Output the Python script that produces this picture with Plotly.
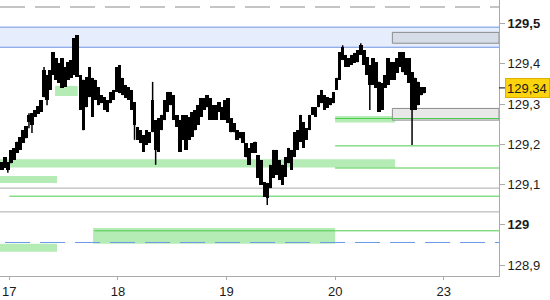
import plotly.graph_objects as go
import pandas as pd

# ---------------- data ----------------
bar_start = "2019-09-16 22:20"
bar_freq = "40min"

body_hi = [129.156,129.168,129.156,129.186,129.191,129.206,129.218,129.235,129.245,129.273,
           129.277,129.285,129.295,129.310,129.384,129.372,129.384,129.429,129.414,129.402,
           129.414,129.392,129.404,129.409,129.464,129.471,129.372,129.360,129.367,129.392,
           129.365,129.360,129.342,129.322,129.317,129.310,129.330,129.335,129.392,129.397,
           129.365,129.347,129.342,129.335,129.305,129.243,129.235,129.223,129.235,129.230,
           129.310,129.260,129.265,129.273,129.310,129.330,129.330,129.322,129.273,129.260,
           129.273,129.273,129.268,129.280,129.285,129.297,129.315,129.315,129.322,129.315,
           129.297,129.297,129.305,129.292,129.310,129.315,129.265,129.253,129.235,129.230,
           129.230,129.203,129.191,129.203,129.206,129.173,129.161,129.106,129.104,129.149,
           129.186,129.186,129.161,129.149,129.168,129.191,129.186,129.230,129.235,129.273,
           129.255,129.240,129.273,129.292,129.292,129.322,129.335,129.322,129.317,129.315,
           129.330,129.365,129.429,129.442,129.422,129.414,129.422,129.427,129.434,129.446,
           129.434,129.417,129.397,129.414,129.404,129.355,129.352,129.372,129.414,129.404,
           129.404,129.414,129.429,129.429,129.414,129.414,129.379,129.365,129.355,129.342,
           129.342]
body_lo = [129.136,129.141,129.136,129.153,129.161,129.178,129.186,129.203,129.215,129.255,
           129.248,129.268,129.275,129.280,129.317,129.310,129.335,129.372,129.360,129.352,
           129.340,129.342,129.360,129.365,129.372,129.367,129.285,129.235,129.292,129.317,
           129.268,129.310,129.297,129.302,129.285,129.280,129.302,129.310,129.330,129.327,
           129.322,129.315,129.310,129.285,129.248,129.211,129.203,129.181,129.198,129.203,
           129.230,129.186,129.181,129.235,129.260,129.280,129.297,129.260,129.243,129.181,
           129.211,129.186,129.211,129.218,129.235,129.248,129.268,129.285,129.292,129.260,
           129.260,129.260,129.280,129.260,129.260,129.253,129.230,129.230,129.211,129.215,
           129.203,129.168,129.149,129.178,129.178,129.116,129.099,129.069,129.067,129.091,
           129.116,129.124,129.111,129.099,129.119,129.153,129.136,129.168,129.186,129.206,
           129.191,129.211,129.235,129.273,129.268,129.292,129.302,129.285,129.290,129.297,
           129.302,129.335,129.360,129.409,129.392,129.392,129.397,129.402,129.404,129.422,
           129.397,129.372,129.347,129.347,129.340,129.280,129.285,129.340,129.347,129.360,
           129.360,129.377,129.392,129.379,129.372,129.352,129.285,129.285,129.297,129.322,
           129.327]
spike_hi = {9: 129.277, 14: 129.392, 50: 129.355, 113: 129.446, 119: 129.451}
spike_lo = {2: 129.129, 9: 129.240, 10: 129.228, 15: 129.297, 44: 129.211,
            51: 129.149, 88: 129.049, 122: 129.285, 136: 129.198}

last_price = 129.34
last_label = "129,34"

y_tickvals = [128.9, 129.0, 129.1, 129.2, 129.3, 129.4, 129.5]
y_ticktext = ["128,9", "<b>129</b>", "129,1", "129,2", "129,3", "129,4", "<b>129,5</b>"]
x_tickvals = ["2019-09-17", "2019-09-18", "2019-09-19", "2019-09-20", "2019-09-23"]
x_ticktext = ["17", "18", "19", "20", "23"]

X0 = "2019-09-16 21:56"
X1 = "2019-09-23 12:13"

blue_zone = (129.491, 129.441)
gray_boxes = [(129.478, 129.451, "2019-09-20 12:39", X1, "#d6dde8"),
              (129.289, 129.260, "2019-09-20 12:39", X1, "#e8e8e8")]
green_bands = [(129.345, 129.320, "2019-09-17 10:06", "2019-09-17 15:07"),
               (129.270, 129.254, "2019-09-20 00:00", "2019-09-20 13:15"),
               (129.163, 129.142, X0, "2019-09-20 13:15"),
               (129.121, 129.104, X0, "2019-09-17 10:32"),
               (128.992, 128.953, "2019-09-17 18:30", "2019-09-20 00:00"),
               (128.953, 128.933, X0, "2019-09-17 10:32")]
green_lines = [(129.264, "2019-09-20 00:00"), (129.196, "2019-09-20 00:00"),
               (129.141, "2019-09-20 00:00"), (129.071, "2019-09-17 00:00"),
               (128.985, "2019-09-17 18:47")]
gray_lines = [129.091, 129.032]
gray_dashed = 129.541
blue_dashed = (128.956, "2019-09-16 23:03")

# ---------------- figure ----------------
n = len(body_hi)
times = pd.date_range(bar_start, periods=n, freq=bar_freq)
high = [spike_hi.get(i, body_hi[i]) for i in range(n)]
low = [spike_lo.get(i, body_lo[i]) for i in range(n)]

fig = go.Figure()

wx, wy = [], []
for i in range(n):
    wx += [times[i], times[i], None]
    wy += [low[i], high[i], None]
fig.add_trace(go.Scatter(x=wx, y=wy, mode="lines", line=dict(color="black", width=1.5),
                         hoverinfo="skip", showlegend=False))
fig.add_trace(go.Bar(x=times, base=body_lo, y=[h - l for h, l in zip(body_hi, body_lo)],
                     width=46 * 60 * 1000, marker=dict(color="black", line=dict(width=0)),
                     showlegend=False))

shapes = []
shapes.append(dict(type="rect", xref="x", yref="y", x0=X0, x1=X1, y0=blue_zone[1], y1=blue_zone[0],
                   fillcolor="#e6edfd", line=dict(width=0), layer="below"))
for v in blue_zone:
    shapes.append(dict(type="line", xref="x", yref="y", x0=X0, x1=X1, y0=v, y1=v,
                       line=dict(color="#6f95e2", width=1), layer="below"))
for top, bot, a, b in green_bands:
    shapes.append(dict(type="rect", xref="x", yref="y", x0=a, x1=b, y0=bot, y1=top,
                       fillcolor="#b5ebb5", line=dict(width=0), layer="below"))
for top, bot, a, b, c in gray_boxes:
    shapes.append(dict(type="rect", xref="x", yref="y", x0=a, x1=b, y0=bot, y1=top,
                       fillcolor=c, line=dict(color="#8c8c8c", width=1), layer="below"))
for v in gray_lines:
    shapes.append(dict(type="line", xref="x", yref="y", x0=X0, x1=X1, y0=v, y1=v,
                       line=dict(color="#aaaaaa", width=1), layer="below"))
for v, a in green_lines:
    shapes.append(dict(type="line", xref="x", yref="y", x0=a, x1=X1, y0=v, y1=v,
                       line=dict(color="#4ccc4c", width=1), layer="below"))
shapes.append(dict(type="line", xref="x", yref="y", x0=X0, x1=X1, y0=gray_dashed, y1=gray_dashed,
                   line=dict(color="#8a8a8a", width=1, dash="25px,10px"), layer="below"))
shapes.append(dict(type="line", xref="x", yref="y", x0=blue_dashed[1], x1=X1,
                   y0=blue_dashed[0], y1=blue_dashed[0],
                   line=dict(color="#6a9ae8", width=1, dash="25px,10px"), layer="below"))
shapes.append(dict(type="line", xref="paper", yref="y", x0=1, x1=1.012, y0=last_price, y1=last_price,
                   line=dict(color="black", width=1)))

fig.update_layout(
    width=550, height=300,
    margin=dict(l=0, r=51, t=0, b=24),
    paper_bgcolor="white", plot_bgcolor="white",
    shapes=shapes,
    bargap=0,
    showlegend=False,
    font=dict(family="Liberation Sans, DejaVu Sans, sans-serif", size=13, color="#1a1a1a"),
    xaxis=dict(type="date", range=[X0, X1],
               rangebreaks=[dict(bounds=["sat", "mon"])],
               tickvals=x_tickvals, ticktext=x_ticktext,
               showgrid=False, zeroline=False,
               showline=True, linecolor="#aaaaaa", linewidth=1,
               ticks="outside", ticklen=3, tickcolor="#aaaaaa",
               tickfont=dict(size=13, color="#1a1a1a")),
    yaxis=dict(side="right", range=[128.8727, 129.5584],
               tickvals=y_tickvals, ticktext=y_ticktext,
               showgrid=False, zeroline=False,
               showline=True, linecolor="#aaaaaa", linewidth=1,
               ticks="outside", ticklen=5, tickcolor="#aaaaaa",
               tickfont=dict(size=13, color="#1a1a1a")),
    annotations=[dict(x=1, xref="paper", y=last_price, yref="y", xanchor="left", yanchor="middle",
                      xshift=6, text=last_label, showarrow=False, align="left",
                      bgcolor="#fcd40e", bordercolor="#e0b000", borderwidth=1, borderpad=1,
                      width=41, height=16,
                      font=dict(size=13, color="#1a1a1a"))],
)

fig.write_html("out.html")
